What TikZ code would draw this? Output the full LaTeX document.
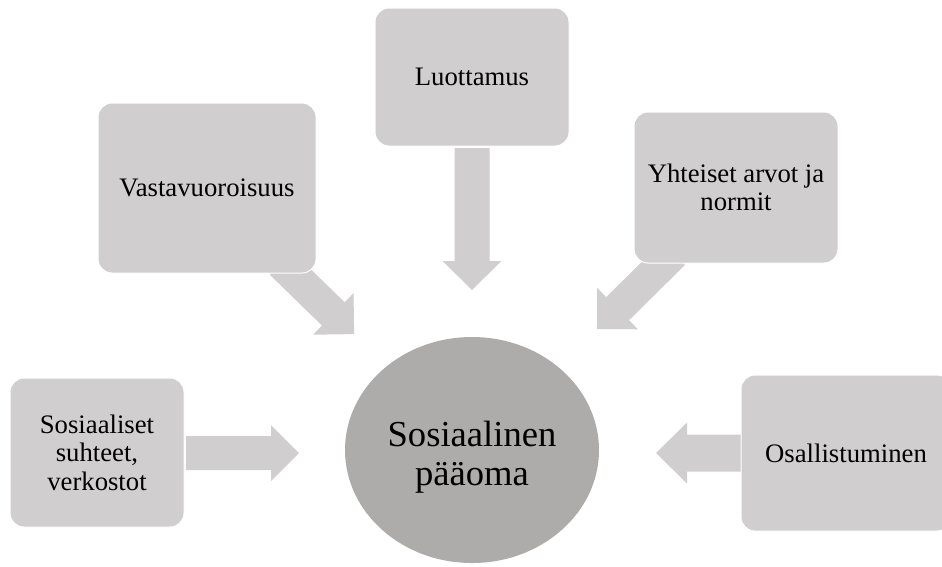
\documentclass[tikz,border=0pt]{standalone}
\usepackage{fontspec}
\setmainfont{Liberation Serif}
\usetikzlibrary{shapes.geometric}

\definecolor{boxgray}{HTML}{D0CECE}
\definecolor{coregray}{HTML}{AEABAB}

\tikzset{
  % factor box: light grey rounded rectangle with a thin white rim
  factor/.style={fill=boxgray, draw=white, line width=1pt, rounded corners=14pt,
    inner sep=0pt, align=center, text=black,
    font=\fontsize{26.7}{28.5}\selectfont},
  % broad grey block arrow: length, shaft width, head width, head length
  pics/blockarrow/.style n args={4}{code={
    \fill[boxgray] (0,-#2/2) -- ({#1-#4},-#2/2) -- ({#1-#4},-#3/2) -- (#1,0)
      -- ({#1-#4},#3/2) -- ({#1-#4},#2/2) -- (0,#2/2) -- cycle;
  }}
}

\begin{document}
\begin{tikzpicture}[x=1pt, y=-1pt]
  \clip (0,0) rectangle (942,566);

  % arrows first, so the boxes cover their tails
  \coordinate (a1) at (186,453);
  \coordinate (a2) at (745,453);
  \coordinate (a3) at (472,148);
  \coordinate (a4) at (281,263);
  \coordinate (a5) at (673.5,253.5);
  \pic[rotate=0]    at (a1) {blockarrow={113}{34}{56}{28}};
  \pic[rotate=180]  at (a2) {blockarrow={89}{37}{61}{31}};
  \pic[rotate=-90]  at (a3) {blockarrow={142}{35}{59}{29}};
  \pic[rotate=-44.2] at (a4) {blockarrow={102}{32.5}{58}{29}};
  \pic[rotate=-135.4] at (a5) {blockarrow={107.5}{32.5}{58}{29}};

  % surrounding factors
  \node[factor, minimum width=218pt, minimum height=170pt] (vas) at (207,188)
    {Vastavuoroisuus};
  \node[factor, minimum width=194pt, minimum height=138pt] (luo) at (472,77)
    {Luottamus};
  \node[factor, minimum width=204pt, minimum height=151pt] (yht) at (736,187.5)
    {Yhteiset arvot ja\\normit};
  \node[factor, minimum width=174pt, minimum height=149pt] (sos) at (97,452.5)
    {Sosiaaliset\\suhteet,\\verkostot};
  \node[factor, minimum width=210pt, minimum height=156pt] (osa) at (846,453)
    {Osallistuminen};

  % central concept
  \node[ellipse, fill=coregray, minimum width=254pt, minimum height=226pt,
    inner sep=0pt] (core) at (472,450) {};
  \node[align=center, inner sep=0pt, font=\fontsize{36.6}{39}\selectfont]
    (coretext) at (472,457) {Sosiaalinen\\pääoma};
\end{tikzpicture}
\end{document}
